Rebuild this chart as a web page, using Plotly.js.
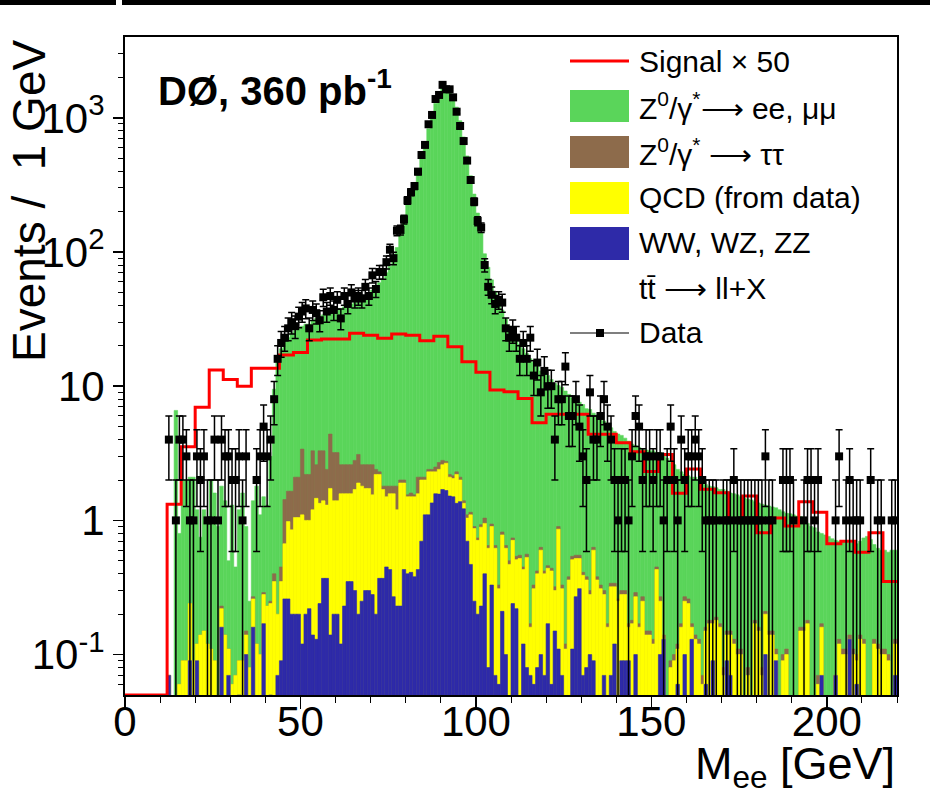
<!DOCTYPE html>
<html>
<head>
<meta charset="utf-8">
<script src="https://cdn.plot.ly/plotly-3.0.1.min.js"></script>
<style>
html,body{margin:0;padding:0;background:#fff;}
#chart{width:930px;height:808px;}
</style>
</head>
<body>
<div id="chart"></div>
<script>
// ---------- data (1 GeV bins from 0 to 220 GeV) ----------
// Stack levels as drawn (cumulative heights of the THStack), per 1-GeV bin
const zllStack = [
 0,0,0,0,0,0,0,0,0,0,
 0,0,0.07,0,6.6,0.8,2.0,2.0,2.1,2.1,
 1.2,0.75,1.2,1.0,2.0,1.6,0.9,1.8,1.4,0.5,
 1.3,0.45,1.2,1.6,0.9,0.25,1.4,1.8,1.1,1.5,
 1.3,3.0,9.5,15,19,22,23,25,26,27,
 28,29,29,31,32,33,34,35,36,37,
 38,38,39,40,41,42,43,44,46,49,
 52,55,59,63,70,78,90,108,134,170,
 225,275,330,410,520,650,830,1040,1280,1500,
 1680,1700,1620,1450,1200,950,720,520,370,270,
 195,140,97,77,62,50,43,37,32,28,
 25,22.5,20.5,19,17.5,16,15,14,13,12.4,
 12,11.2,10.5,10.1,9.8,9.2,8.7,8.2,7.9,7.6,
 7.3,6.8,6.7,6.3,6.1,5.9,5.5,5.2,4.9,4.6,
 4.4,4.3,4.1,3.9,3.7,3.6,3.5,3.4,3.35,3.3,
 3.3,3.2,3.2,3.1,2.9,2.7,2.6,2.4,2.3,2.2,
 2.15,2.1,2.1,2.0,1.9,1.85,1.8,1.78,1.75,1.7,
 1.7,1.65,1.6,1.58,1.55,1.5,1.46,1.44,1.42,1.38,
 1.35,1.32,1.3,1.28,1.26,1.24,1.2,1.16,1.13,1.12,
 1.1,1.08,1.07,1.05,0.95,0.9,0.88,0.82,0.8,0.78,
 0.76,0.73,0.71,0.7,0.7,0.69,0.68,0.68,0.67,0.7,
 0.74,0.76,0.72,0.66,0.62,0.6,0.6,0.58,0.6,0.6
];
const zttStack = [
 0,0,0,0,0,0,0,0,0,0,
 0,0,0.07,0,0,0.06,0.09,0.09,0.24,0.09,
 0.12,0.14,0.15,0.12,0.11,0.09,0,0.23,0.14,0.11,
 0.06,0.07,0.09,0.09,0.15,0.08,0.27,0.12,0.1,0.29,
 0.23,0.25,0.4,0.2,0.45,1.43,1.65,1.65,2.1,2.1,
 3.4,2.2,2.2,3.3,2.6,3.3,3.3,2.4,4.4,3.2,
 3.2,2.6,2.6,2.6,2.6,2.8,3.1,2.6,2.6,2.6,
 2.6,2.4,2.3,1.8,1.8,1.8,1.8,1.8,2.0,2.0,
 1.55,1.6,1.55,2.1,2.1,2.1,2.4,2.4,2.5,2.7,
 2.8,2.75,2.2,2.15,2.3,2.1,1.4,1.1,1.15,0.9,
 0.74,0.93,1.04,0.65,0.94,0.65,0.33,0.82,0.65,0.5,
 0.74,0.54,0.55,0.45,0.56,0.17,0.33,0.42,0.63,0.42,
 0.46,0.44,0.32,0.9,0.33,0.12,0.38,0.54,0.55,0.55,
 0.41,0.38,0.3,0.63,0.38,0.33,0.3,0.17,0.34,0.34,
 0.26,0.3,0.3,0.17,0.18,0.29,0.17,0.27,0.15,0.15,
 0.13,0.45,0.27,0.14,0,0.09,0.1,0.12,0.17,0.27,
 0.26,0.17,0.14,0.13,0.07,0.16,0.18,0.18,0.19,0.17,
 0.08,0.15,0.15,0.13,0.11,0.11,0,0.08,0,0.18,
 0.16,0.08,0.21,0.15,0.15,0.11,0,0.1,0.11,0,
 0,0,0.16,0.16,0.18,0,0,0.07,0.17,0,
 0,0,0.07,0.13,0.11,0.11,0.14,0.11,0.1,0.14,
 0.13,0,0,0.13,0.12,0.11,0.11,0.1,0,0.13
];
const qcdStack = [
 0,0,0,0,0,0,0,0,0,0,
 0,0,0.07,0,0,0.06,0.09,0.09,0.24,0.09,
 0.12,0.14,0.15,0.12,0.11,0.09,0,0.22,0.14,0.11,
 0.06,0.07,0.09,0.09,0.14,0.08,0.26,0.12,0.1,0.28,
 0.23,0.24,0.35,0.2,0.35,0.67,0.98,0.85,1.05,1.05,
 1.1,1.0,1.0,1.2,1.46,1.34,1.4,1.3,1.73,1.4,
 1.4,1.58,1.58,1.58,1.58,1.7,1.9,1.8,1.73,1.73,
 1.55,2.2,2.2,1.7,1.5,1.58,1.58,1.2,1.9,1.9,
 1.5,1.5,1.5,1.58,2.0,2.0,2.3,2.3,2.3,2.4,
 2.6,2.67,2.1,2.05,2.2,2.0,1.34,1.04,1.1,0.87,
 0.71,0.89,0.95,0.62,0.9,0.62,0.31,0.78,0.62,0.47,
 0.71,0.51,0.52,0.43,0.53,0.16,0.31,0.4,0.6,0.4,
 0.44,0.42,0.3,0.86,0.31,0.11,0.36,0.51,0.52,0.52,
 0.39,0.36,0.28,0.6,0.36,0.31,0.28,0.16,0.32,0.32,
 0.25,0.28,0.28,0.16,0.17,0.27,0.16,0.25,0.14,0.14,
 0.12,0.43,0.25,0.13,0,0.08,0.09,0.11,0.16,0.25,
 0.24,0.16,0.13,0.12,0.06,0.15,0.17,0.17,0.18,0.16,
 0.07,0.14,0.14,0.12,0.1,0.1,0,0.07,0,0.17,
 0.15,0.07,0.2,0.14,0.14,0.1,0,0.09,0.1,0,
 0,0,0.15,0.15,0.17,0,0,0.06,0.16,0,
 0,0,0.07,0.12,0.1,0.1,0.13,0.1,0.09,0.13,
 0.12,0,0,0.12,0.11,0.1,0.1,0.09,0,0.12
];
const dibosonStack = [
 0,0,0,0,0,0,0,0,0,0,
 0,0,0.07,0,0,0,0,0,0.09,0,
 0.09,0,0,0,0,0,0,0.16,0,0.07,
 0,0,0.05,0,0.1,0,0.16,0,0,0.17,
 0,0.05,0,0.07,0.09,0.26,0.26,0.2,0.2,0.2,
 0.12,0.2,0.22,0.14,0.13,0.24,0.37,0.37,0.14,0.2,
 0.2,0.12,0.23,0.35,0.35,0.3,0.2,0.25,0.3,0.3,
 0.28,0.2,0.37,0.37,0.45,0.43,0.27,0.23,0.23,0.43,
 0.4,0.41,0.38,0.43,0.7,1.1,1.1,1.35,1.58,1.57,
 1.7,1.67,1.52,1.5,1.34,1.38,1.22,0.7,0.47,0.25,
 0.2,0.23,0.4,0.08,0.33,0.07,0.06,0.21,0.1,0,
 0.24,0.22,0,0.12,0.08,0.07,0.06,0.08,0.1,0.07,
 0.17,0.06,0.15,0.11,0.07,0,0,0.11,0.27,0.31,
 0.07,0.08,0.1,0.09,0,0,0.07,0,0.07,0.12,
 0,0.09,0.09,0.09,0,0.1,0,0,0,0,
 0,0,0.1,0.13,0,0,0,0.06,0,0.1,
 0,0.13,0,0,0,0.06,0,0.09,0,0,
 0,0.09,0.07,0,0,0,0,0,0,0,
 0,0,0.1,0,0,0.09,0,0,0,0,
 0,0,0,0,0,0,0,0,0.07,0,
 0,0,0.07,0,0,0,0.13,0,0.06,0,
 0,0,0,0,0,0,0,0,0,0.07
];
// Data: observed events per 1 GeV bin
const dataCounts = [
 0,0,0,0,0,0,0,0,0,0,
 0,0,4,0,1,4,4,3,1,1,
 3,2,3,1,1,4,1,4,3,3,
 2,2,3,1,3,0,0,2,3,5,
 3,4,8,16,21,23,27,30,28,33,
 36,38,27,37,35,31,46,36,47,37,
 44,32,47,41,50,45,47,45,55,47,
 67,53,71,71,84,104,90,144,146,175,
 242,279,310,397,528,628,895,1050,1380,1480,
 1760,1630,1630,1420,1110,869,671,480,344,237,
 170,152,80,55,48,41,44,42,27,23,
 26,23,16,21,16,23,12,15,9,13,
 10,10,4,8,8,14,6,6,8,5,
 3,2,9,4,4,6,8,5,4,2,
 1,2,2,1,3,6,5,2,3,3,
 2,3,3,1,2,5,2,1,4,2,
 3,3,4,3,2,1,1,1,1,0,
 1,1,1,2,1,1,1,1,1,1,
 1,1,3,1,1,0,0,2,2,2,
 1,0,0,1,2,2,1,2,0,0,
 0,0,1,3,0,1,2,1,1,1,
 0,0,2,0,1,1,0,0,1,1
];
// Signal x 50, in 4-GeV bins from 0 to 220 GeV
const signalBinWidth = 4;
const signalX50 = [
 0,0,0,1.32,3.54,6.96,13.2,11.2,10.0,13.6,
 13.6,17.1,17.8,22.1,22.5,22.5,24.8,24.0,22.8,24.5,
 24.0,21.8,23.6,19.7,15.2,12.7,9.37,9.1,8.1,5.35,
 6.17,6.17,6.17,4.38,4.38,3.79,3.25,2.31,3.1,1.59,
 2.42,1.71,1.61,1.0,1.52,0.81,1.04,0.91,1.38,1.15,
 0.67,0.70,0.58,0.81,0.35
];
const xTickVals = [0,50,100,150,200];
const yTickVals = [0.1,1,10,100,1000];
const yTickText = ['10<sup>-1</sup>','1','10','10<sup>2</sup>','10<sup>3</sup>'];

// ---------- styling ----------
const FONT = 'Liberation Sans, Arial, Helvetica, sans-serif';
const COL = {zll:'#5ad55a', ztt:'#8d6b4b', qcd:'#ffff00', dib:'#2e2aa8', sig:'#ff0000'};
const yMin = 0.05, yMax = 4000;
const W = 930, H = 808, L = 125, R = 33, T = 37, B = 113;
const PW = W - L - R, PH = H - T - B;
const px = x => (x - L) / PW;
const py = y => (H - B - y) / PH;

const binCenters = zllStack.map((_, i) => i + 0.5);

function stackBar(levels, color) {
  return {
    type: 'bar', x: binCenters, y: levels.map(v => v > 0 ? v : null),
    width: 1, marker: {color: color, line: {width: 0.6, color: color}},
    showlegend: false, hoverinfo: 'skip'
  };
}

const sigX = signalX50.map((_, i) => i * signalBinWidth);
sigX.push(signalX50.length * signalBinWidth);
const sigY = signalX50.concat([signalX50[signalX50.length - 1]]).map(v => Math.max(v, yMin));

const dX = [], dY = [], dE = [];
dataCounts.forEach((n, i) => { if (n > 0) { dX.push(binCenters[i]); dY.push(n); dE.push(Math.sqrt(n)); } });

const traces = [
  stackBar(zllStack, COL.zll),
  stackBar(zttStack, COL.ztt),
  stackBar(qcdStack, COL.qcd),
  stackBar(dibosonStack, COL.dib),
  {type: 'scatter', mode: 'lines', x: sigX, y: sigY, line: {shape: 'hv', color: COL.sig, width: 3},
   showlegend: false, hoverinfo: 'skip'},
  {type: 'scatter', mode: 'markers', x: dX, y: dY,
   marker: {symbol: 'square', size: 8, color: '#000'},
   error_y: {type: 'data', array: dE, visible: true, color: '#000', thickness: 1.5, width: 3.5},
   showlegend: false, hoverinfo: 'skip'}
];

const minorY = [];
[0.01, 0.1, 1, 10, 100, 1000].forEach(d => { for (let k = 2; k <= 9; k++) { const v = k * d; if (v > yMin && v < yMax) minorY.push(v); } });

// legend (drawn as shapes + text)
const legX0 = 570, legX1 = 629, legTextX = 637;
const shapes = [
  // top black bars of the surrounding frame
  {type: 'rect', xref: 'paper', yref: 'paper', x0: px(0), x1: px(116), y0: py(5), y1: py(0), fillcolor: '#000', line: {width: 0}},
  {type: 'rect', xref: 'paper', yref: 'paper', x0: px(122), x1: px(930), y0: py(5), y1: py(0), fillcolor: '#000', line: {width: 0}},
  // legend symbols
  {type: 'line', xref: 'paper', yref: 'paper', x0: px(legX0), x1: px(legX1), y0: py(61), y1: py(61), line: {color: COL.sig, width: 3}},
  {type: 'rect', xref: 'paper', yref: 'paper', x0: px(legX0), x1: px(legX1), y0: py(122), y1: py(90), fillcolor: COL.zll, line: {width: 0}},
  {type: 'rect', xref: 'paper', yref: 'paper', x0: px(legX0), x1: px(legX1), y0: py(168), y1: py(136), fillcolor: COL.ztt, line: {width: 0}},
  {type: 'rect', xref: 'paper', yref: 'paper', x0: px(legX0), x1: px(legX1), y0: py(214), y1: py(182), fillcolor: COL.qcd, line: {width: 0}},
  {type: 'rect', xref: 'paper', yref: 'paper', x0: px(legX0), x1: px(legX1), y0: py(260), y1: py(227), fillcolor: COL.dib, line: {width: 0}},
  {type: 'line', xref: 'paper', yref: 'paper', x0: px(legX0), x1: px(legX1), y0: py(333), y1: py(333), line: {color: '#000', width: 1.2}},
  {type: 'rect', xref: 'paper', yref: 'paper', x0: px(596), x1: px(604), y0: py(337), y1: py(329), fillcolor: '#000', line: {width: 0}}
];
const legendEntries = [
  ['Signal × 50', 61],
  ['Z<sup>0</sup>/γ<sup>*</sup>⟶ ee, μμ', 106],
  ['Z<sup>0</sup>/γ<sup>*</sup> ⟶ ττ', 152],
  ['QCD (from data)', 198],
  ['WW, WZ, ZZ', 243],
  ['tt\u0304 ⟶ ll+X', 288],
  ['Data', 333]
];
const annotations = legendEntries.map(([t, y]) => ({
  xref: 'paper', yref: 'paper', x: px(legTextX), y: py(y), xanchor: 'left', yanchor: 'middle',
  text: t, showarrow: false, font: {family: FONT, size: 30, color: '#000'}
}));
annotations.push(
  {xref: 'paper', yref: 'paper', x: px(156), y: py(88), xanchor: 'left', yanchor: 'middle',
   text: '<b>DØ, 360 pb<sup>-1</sup></b>', showarrow: false, font: {family: FONT, size: 40, color: '#000'}},
  {xref: 'paper', yref: 'paper', x: 1, y: py(767), xanchor: 'right', yanchor: 'middle',
   text: 'M<sub>ee</sub> [GeV]', showarrow: false, font: {family: FONT, size: 45, color: '#000'}},
  {xref: 'paper', yref: 'paper', x: px(29), y: py(38), xanchor: 'center', yanchor: 'top', textangle: -90,
   text: 'Events /  1 GeV', showarrow: false, font: {family: FONT, size: 46, color: '#000'}}
);

const layout = {
  width: W, height: H,
  margin: {l: L, r: R, t: T, b: B, pad: 0},
  paper_bgcolor: '#fff', plot_bgcolor: '#fff',
  barmode: 'overlay', bargap: 0, showlegend: false,
  font: {family: FONT, color: '#000'},
  xaxis: {
    range: [0, 220], tickmode: 'array', tickvals: xTickVals,
    ticks: 'outside', ticklen: 12, tickwidth: 1.5, tickcolor: '#000',
    ticklabelstandoff: -23,
    showline: true, linecolor: '#000', linewidth: 2, mirror: true,
    showgrid: false, zeroline: false,
    tickfont: {family: FONT, size: 42, color: '#000'},
    minor: {tickmode: 'linear', tick0: 0, dtick: 10, ticks: 'outside', ticklen: 6, tickwidth: 1, tickcolor: '#000', showgrid: false}
  },
  yaxis: {
    type: 'log', range: [Math.log10(yMin), Math.log10(yMax)],
    tickmode: 'array', tickvals: yTickVals, ticktext: yTickText,
    ticks: 'outside', ticklen: 10, tickwidth: 1.5, tickcolor: '#000',
    showline: true, linecolor: '#000', linewidth: 2, mirror: true,
    showgrid: false, zeroline: false,
    tickfont: {family: FONT, size: 42, color: '#000'},
    minor: {tickmode: 'array', tickvals: minorY, ticks: 'outside', ticklen: 5, tickwidth: 1, tickcolor: '#000', showgrid: false}
  },
  shapes: shapes,
  annotations: annotations
};

Plotly.newPlot('chart', traces, layout, {displayModeBar: false, staticPlot: true});
</script>
</body>
</html>
